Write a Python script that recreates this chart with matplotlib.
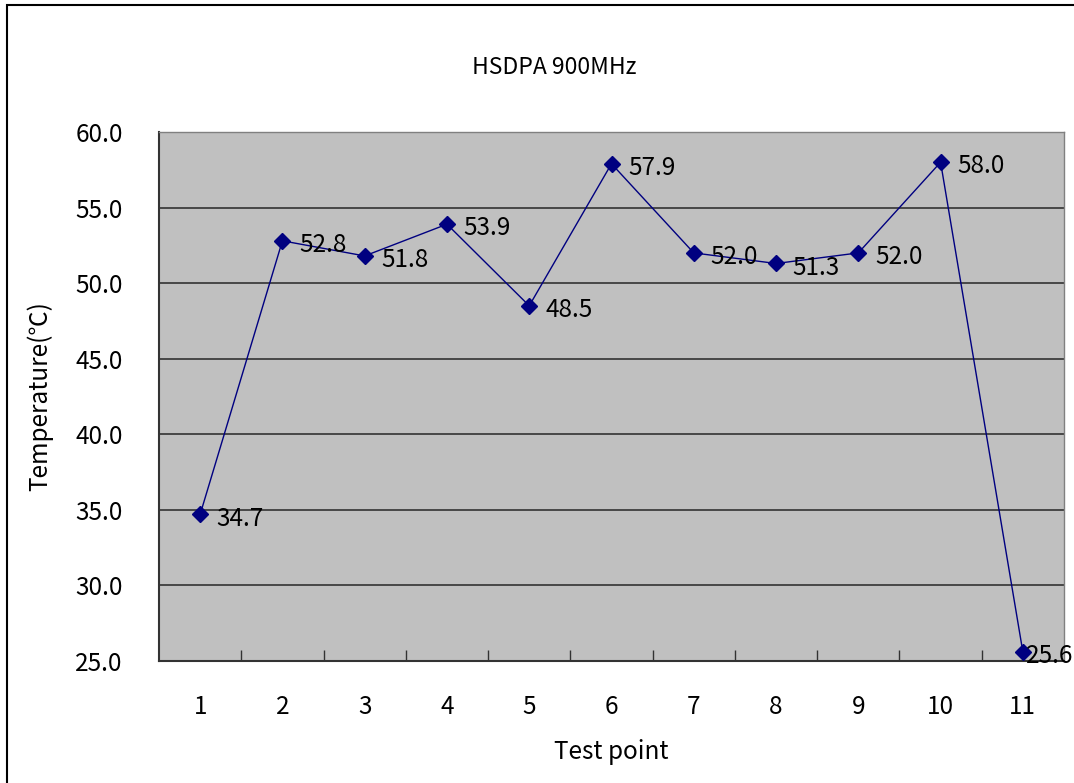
import matplotlib
matplotlib.use("Agg")
import matplotlib.pyplot as plt
from matplotlib.patches import Rectangle

# test results
test_points = [1, 2, 3, 4, 5, 6, 7, 8, 9, 10, 11]
temps = [34.7, 52.8, 51.8, 53.9, 48.5, 57.9, 52.0, 51.3, 52.0, 58.0, 25.6]
y_ticks = [25, 30, 35, 40, 45, 50, 55, 60]

plt.rcParams['font.family'] = ['Noto Sans CJK JP', 'DejaVu Sans']
FS = 17.5

W, H = 1074, 783
fig = plt.figure(figsize=(W / 100, H / 100), dpi=100)
ax = fig.add_axes([159 / W, 1 - 661 / H, (1064 - 159) / W, (661 - 132) / H])

# chart frame, runs off the right and bottom edges
fig.patches.append(Rectangle((7 / W, -0.1), 1.2, 1 - 5 / H + 0.1,
                             transform=fig.transFigure, fill=False,
                             edgecolor='black', linewidth=1.5))

ax.set_facecolor('#c0c0c0')
ax.plot(test_points, temps, color='#000080', linewidth=1.0,
        marker='D', markersize=8, markerfacecolor='#000080',
        markeredgecolor='#000080', zorder=3, clip_on=False)

for i, (x, y) in enumerate(zip(test_points, temps)):
    # last label is pushed against the marker by the chart edge
    dx = 2 if i == len(temps) - 1 else 12
    ax.annotate(f'{y:.1f}', xy=(x, y), xytext=(dx, -3),
                textcoords='offset points', ha='left', va='center',
                fontsize=FS, color='black', annotation_clip=False, zorder=4)

ax.set_xlim(0.5, 11.5)
ax.set_ylim(25, 60)
ax.set_yticks(y_ticks)
ax.set_yticklabels([f'{v:.1f}' for v in y_ticks], fontsize=FS)
ax.tick_params(axis='y', length=0, pad=26)

ax.set_xticks(test_points)
ax.set_xticklabels([str(p) for p in test_points], fontsize=FS)
ax.tick_params(axis='x', which='major', length=0, pad=24)
ax.set_xticks([p + 0.5 for p in test_points[:-1]], minor=True)
ax.tick_params(axis='x', which='minor', direction='in', length=8,
               width=1.0, color='#333333')

ax.yaxis.grid(True, color='#333333', linewidth=1.2)
ax.set_axisbelow(True)

for side in ('top', 'right'):
    ax.spines[side].set_color('#808080')
    ax.spines[side].set_linewidth(1.0)
for side in ('left', 'bottom'):
    ax.spines[side].set_color('#333333')
    ax.spines[side].set_linewidth(1.5)

fig.text(554 / W, 1 - 68 / H, 'HSDPA 900MHz', ha='center', va='center', fontsize=16.5)
fig.text(611 / W, 1 - 752 / H, 'Test point', ha='center', va='center', fontsize=FS)
fig.text(40 / W, 1 - 396 / H, 'Temperature(℃)', ha='center', va='center',
         rotation=90, fontsize=FS)

fig.savefig('out.png', dpi=100)
